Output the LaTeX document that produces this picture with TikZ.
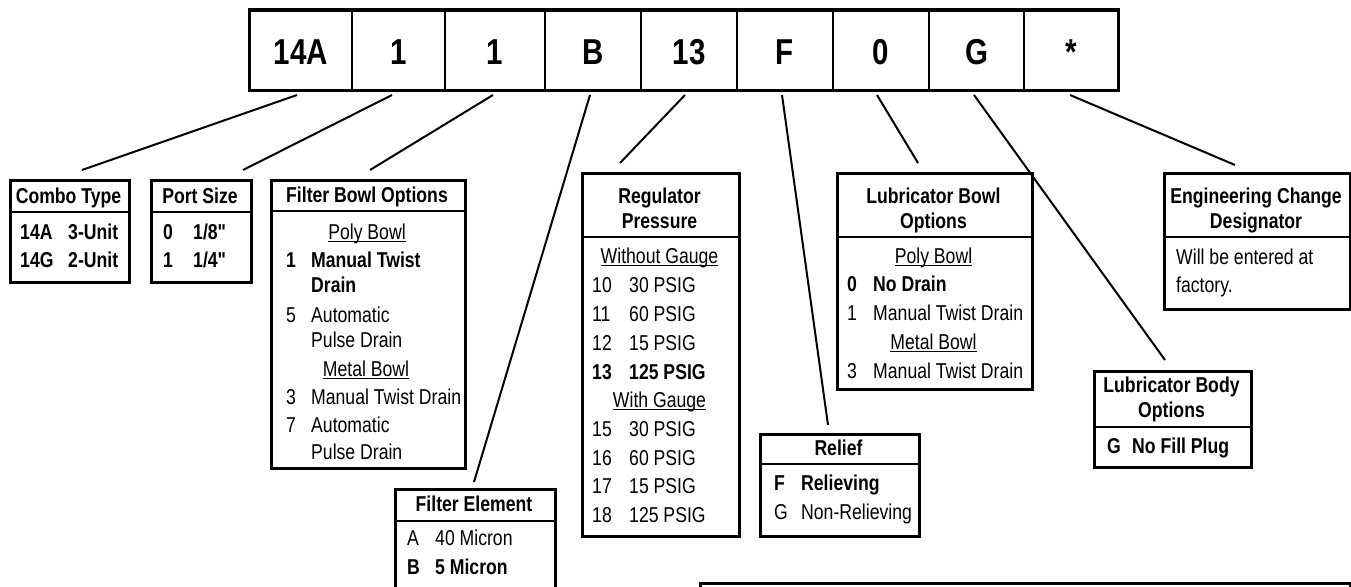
\documentclass[tikz,border=0pt]{standalone}
\usepackage{fontspec}
\setmainfont{Liberation Sans}[FakeStretch=0.82]
\newcommand\txfont{\fontsize{21.5}{25}\selectfont}
\newcommand\bigfont{\fontsize{36}{40}\selectfont\bfseries}
\newcommand\myul[1]{\setbox0\hbox{#1}\rlap{\rule[-3pt]{\wd0}{1.3pt}}\box0}
\newcommand\dq{\XeTeXglyph\XeTeXcharglyph"22\relax}
\tikzset{
  box/.style={draw, line width=2.6pt, inner sep=0pt, anchor=north west},
  cell/.style={draw, line width=2pt, minimum height=80pt, inner sep=0pt, anchor=north west,
    font=\bigfont, text height=26pt, text depth=0pt},
  hd/.style={anchor=base, inner sep=0pt, font=\txfont\bfseries},
  tx/.style={anchor=base west, inner sep=0pt, font=\txfont},
  txb/.style={anchor=base west, inner sep=0pt, font=\txfont\bfseries},
  uc/.style={anchor=base, inner sep=0pt, font=\txfont},
  conn/.style={line width=2pt},
  div/.style={line width=2.6pt}
}
\begin{document}
\begin{tikzpicture}[x=1pt,y=-1pt]
\useasboundingbox (0,0) rectangle (1351,586);
% top code row
\node[cell, minimum width=102pt] (c1) at (249,10) {14A};
\node[cell, minimum width=93pt]  (c2) at (351,10) {1};
\node[cell, minimum width=100pt] (c3) at (444,10) {1};
\node[cell, minimum width=96pt]  (c4) at (544,10) {B};
\node[cell, minimum width=96pt]  (c5) at (640,10) {13};
\node[cell, minimum width=96pt]  (c6) at (736,10) {F};
\node[cell, minimum width=96pt]  (c7) at (832,10) {0};
\node[cell, minimum width=95pt]  (c8) at (928,10) {G};
\node[cell, minimum width=95pt]  (c9) at (1023,10) {*};
\draw[line width=3pt] (249,10) rectangle (1118,90);

% Combo Type
\node[box, minimum width=119pt, minimum height=102pt] (combo) at (9,179) {};
\draw[div] (9,212) -- (128,212);
\node[hd] (comboh) at (68.5,203) {Combo Type};
\node[txb] (combo1a) at (20,239) {14A};
\node[txb] (combo1b) at (68,239) {3-Unit};
\node[txb] (combo2a) at (20,267) {14G};
\node[txb] (combo2b) at (68,267) {2-Unit};

% Port Size
\node[box, minimum width=100pt, minimum height=102pt] (port) at (150,179) {};
\draw[div] (150,212) -- (250,212);
\node[hd] (porth) at (200,203) {Port Size};
\node[txb] (port1a) at (163,239) {0};
\node[txb] (port1b) at (193,239) {1/8\dq};
\node[txb] (port2a) at (163,267) {1};
\node[txb] (port2b) at (193,267) {1/4\dq};

% Filter Bowl Options
\node[box, minimum width=194pt, minimum height=288pt] (fbowl) at (270,179) {};
\draw[div] (270,211) -- (464,211);
\node[hd] (fbowlh) at (367,202) {Filter Bowl Options};
\node[uc] (fb1) at (367,239) {\myul{Poly Bowl}};
\node[txb] (fb2a) at (286,267) {1};
\node[txb] (fb2b) at (311,267) {Manual Twist};
\node[txb] (fb3) at (311,292) {Drain};
\node[tx] (fb4a) at (286,322) {5};
\node[tx] (fb4b) at (311,322) {Automatic};
\node[tx] (fb5) at (311,347) {Pulse Drain};
\node[uc] (fb6) at (366,376) {\myul{Metal Bowl}};
\node[tx] (fb7a) at (286,404) {3};
\node[tx] (fb7b) at (311,404) {Manual Twist Drain};
\node[tx] (fb8a) at (286,432) {7};
\node[tx] (fb8b) at (311,432) {Automatic};
\node[tx] (fb9) at (311,459) {Pulse Drain};

% Filter Element
\node[box, minimum width=160pt, minimum height=140pt] (felem) at (394,488) {};
\draw[div] (394,521) -- (554,521);
\node[hd] (felemh) at (474,511) {Filter Element};
\node[tx] (fe1a) at (407,545) {A};
\node[tx] (fe1b) at (435,545) {40 Micron};
\node[txb] (fe2a) at (407,574) {B};
\node[txb] (fe2b) at (435,574) {5 Micron};

% Regulator Pressure
\node[box, minimum width=157pt, minimum height=363pt] (reg) at (581,172) {};
\draw[div] (581,237) -- (738,237);
\node[hd] (regh1) at (659.5,203) {Regulator};
\node[hd] (regh2) at (659.5,228) {Pressure};
\node[uc] (rg0) at (659.5,263) {\myul{Without Gauge}};
\node[tx] (rg1a) at (592,292) {10};
\node[tx] (rg1b) at (629,292) {30 PSIG};
\node[tx] (rg2a) at (592,321) {11};
\node[tx] (rg2b) at (629,321) {60 PSIG};
\node[tx] (rg3a) at (592,350) {12};
\node[tx] (rg3b) at (629,350) {15 PSIG};
\node[txb] (rg4a) at (592,379) {13};
\node[txb] (rg4b) at (629,379) {125 PSIG};
\node[uc] (rg5) at (659.5,407) {\myul{With Gauge}};
\node[tx] (rg6a) at (592,436) {15};
\node[tx] (rg6b) at (629,436) {30 PSIG};
\node[tx] (rg7a) at (592,465) {16};
\node[tx] (rg7b) at (629,465) {60 PSIG};
\node[tx] (rg8a) at (592,493) {17};
\node[tx] (rg8b) at (629,493) {15 PSIG};
\node[tx] (rg9a) at (592,522) {18};
\node[tx] (rg9b) at (629,522) {125 PSIG};

% Relief
\node[box, minimum width=159pt, minimum height=102pt] (relief) at (759,433) {};
\draw[div] (759,464) -- (918,464);
\node[hd] (reliefh) at (838.5,455) {Relief};
\node[txb] (rl1a) at (774,490) {F};
\node[txb] (rl1b) at (801,490) {Relieving};
\node[tx] (rl2a) at (774,519) {G};
\node[tx] (rl2b) at (801,519) {Non-Relieving};

% Lubricator Bowl Options
\node[box, minimum width=195pt, minimum height=216pt] (lbowl) at (836,172) {};
\draw[div] (836,237) -- (1031,237);
\node[hd] (lbowlh1) at (933.5,203) {Lubricator Bowl};
\node[hd] (lbowlh2) at (933.5,228) {Options};
\node[uc] (lb1) at (933.5,263) {\myul{Poly Bowl}};
\node[txb] (lb2a) at (847,291) {0};
\node[txb] (lb2b) at (873,291) {No Drain};
\node[tx] (lb3a) at (847,320) {1};
\node[tx] (lb3b) at (873,320) {Manual Twist Drain};
\node[uc] (lb4) at (933.5,349) {\myul{Metal Bowl}};
\node[tx] (lb5a) at (847,378) {3};
\node[tx] (lb5b) at (873,378) {Manual Twist Drain};

% Engineering Change Designator
\node[box, minimum width=186pt, minimum height=136pt] (eng) at (1163,172) {};
\draw[div] (1163,237) -- (1349,237);
\node[hd] (engh1) at (1256,203) {Engineering Change};
\node[hd] (engh2) at (1256,228) {Designator};
\node[tx] (eng1) at (1176,264) {Will be entered at};
\node[tx] (eng2) at (1176,292) {factory.};

% Lubricator Body Options
\node[box, minimum width=157pt, minimum height=96pt] (lbody) at (1093,370) {};
\draw[div] (1093,427) -- (1250,427);
\node[hd] (lbodyh1) at (1171.5,392) {Lubricator Body};
\node[hd] (lbodyh2) at (1171.5,417) {Options};
\node[txb] (lbd1a) at (1107,453) {G};
\node[txb] (lbd1b) at (1132,453) {No Fill Plug};

% bottom box (cut off)
\node[box, minimum width=650pt, minimum height=60pt] (bottombox) at (699,582) {};

% connectors
\coordinate (s1) at (297,95);  \coordinate (e1) at (82,170);
\coordinate (s2) at (392,95);  \coordinate (e2) at (243,170);
\coordinate (s3) at (493,95);  \coordinate (e3) at (370,170);
\coordinate (s4) at (590,95);  \coordinate (e4) at (474,482);
\coordinate (s5) at (685,95);  \coordinate (e5) at (620,163);
\coordinate (s6) at (782,95);  \coordinate (e6) at (828,425);
\coordinate (s7) at (877,95);  \coordinate (e7) at (918,163);
\coordinate (s8) at (974,95);  \coordinate (e8) at (1165,360);
\coordinate (s9) at (1070,95); \coordinate (e9) at (1235,165);
\foreach \i in {1,...,9} { \draw[conn] (s\i) -- (e\i); }
\end{tikzpicture}
\end{document}
